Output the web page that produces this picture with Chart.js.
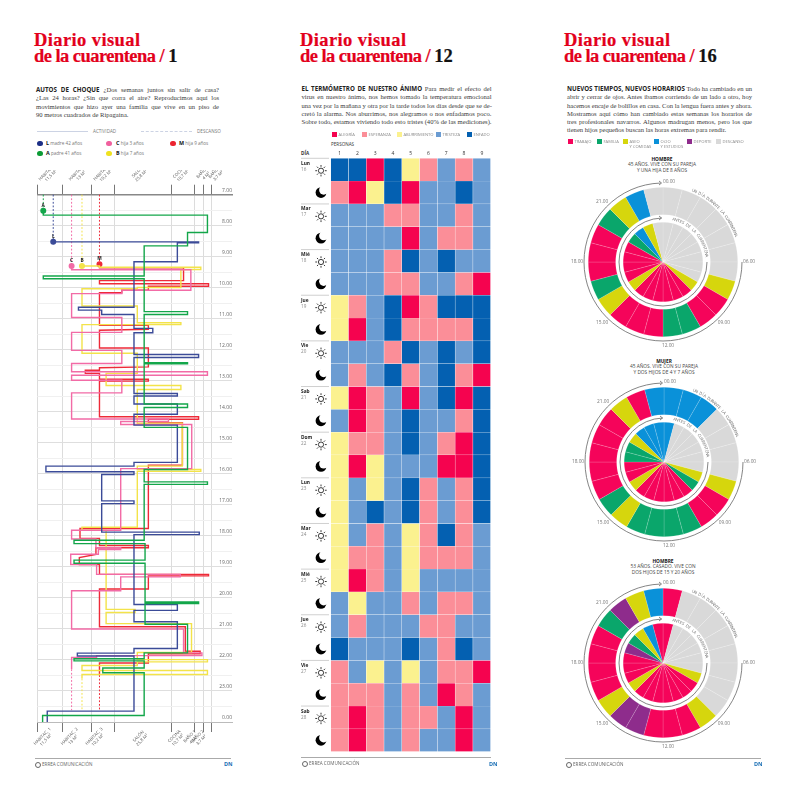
<!DOCTYPE html>
<html>
<head>
<meta charset="utf-8">
<script src="https://cdn.jsdelivr.net/npm/chart.js@4"></script>
<style>
  html, body { margin: 0; background: #fff; }
  #page { position: relative; width: 800px; height: 800px; overflow: hidden; font-family: "Open Sans", sans-serif; }
  #page > * { position: absolute; }
  canvas { display: block; }
  .title { font: bold 18.5px/16px "Liberation Serif", serif; color: #e3001b; -webkit-text-stroke: 0.2px #e3001b; white-space: nowrap; }
  .title .one { letter-spacing: 0.4px; }
  .title .two { letter-spacing: -0.55px; }
  .title b { color: #111; -webkit-text-stroke: 0.2px #111; }
  .body { font: 6.6px/8.3px "Liberation Serif", serif; color: #3a3a3a; }
  .body div { text-align: justify; text-align-last: justify; white-space: nowrap; }
  .body div.end { text-align-last: left; }
  .body b { font: bold 6.2px "Open Sans", sans-serif; color: #222; }
  .tag { font-size: 4.6px; line-height: 5px; color: #777; white-space: nowrap; }
  .tag b { color: #111; font-size: 5.4px; }
  .dot { width: 5.5px; height: 5.5px; border-radius: 50%; }
  .sw { width: 5px; height: 5px; }
  .head { font-size: 4.8px; line-height: 5.7px; color: #444; text-align: center; white-space: nowrap; }
  .head b { color: #111; }
  .rule { height: 1px; background: #aaa; }
  .foot { font-size: 4.6px; color: #666; white-space: nowrap; }
  .ring { width: 4px; height: 4px; border: 0.7px solid #666; border-radius: 50%; }
  .dn { font-size: 5.5px; font-weight: bold; color: #1a6fb5; }
</style>
</head>
<body>
<div id="page">
  <!-- panel 1 -->
  <div class="title" style="left:34px;top:32px"><span class="one">Diario visual</span><br><span class="two">de la cuarentena / </span><b>1</b></div>
  <div class="body" style="left:36px;top:85px;width:183px">
    <div><b>AUTOS DE CHOQUE</b> ¿Dos semanas juntos sin salir de casa?</div>
    <div>¿Las 24 horas? ¿Sin que corra el aire? Reproducimos aquí los</div>
    <div>movimientos que hizo ayer una familia que vive en un piso de</div>
    <div class="end">90 metros cuadrados de Ripagaina.</div>
  </div>
  <div style="left:37px;top:131px;width:51px;border-top:1px solid #ccd3e4"></div>
  <div class="tag" style="left:93px;top:129px">ACTIVIDAD</div>
  <div style="left:141px;top:131px;width:51px;border-top:1px dashed #ccd3e4"></div>
  <div class="tag" style="left:197px;top:129px">DESCANSO</div>
  <div class="dot" style="left:37px;top:140.5px;background:#1c2f86"></div>
  <div class="tag" style="left:46px;top:140.5px"><b>L</b> madre 42 años</div>
  <div class="dot" style="left:37px;top:150.5px;background:#0c9b35"></div>
  <div class="tag" style="left:46px;top:150.5px"><b>A</b> padre 41 años</div>
  <div class="dot" style="left:106px;top:140.5px;background:#f0609e"></div>
  <div class="tag" style="left:116px;top:140.5px"><b>C</b> hija 3 años</div>
  <div class="dot" style="left:106px;top:150.5px;background:#efe21f"></div>
  <div class="tag" style="left:116px;top:150.5px"><b>B</b> hija 7 años</div>
  <div class="dot" style="left:170px;top:140.5px;background:#ec2330"></div>
  <div class="tag" style="left:179px;top:140.5px"><b>M</b> hija 9 años</div>
  <canvas id="moves" width="210" height="580" style="left:30px;top:170px"></canvas>
  <div class="rule" style="left:35px;top:758px;width:196px"></div>
  <div class="ring" style="left:35px;top:762px"></div>
  <div class="foot" style="left:42px;top:761px">ERREA COMUNICACIÓN</div>
  <div class="dn" style="left:224px;top:760px">DN</div>

  <!-- panel 2 -->
  <div class="title" style="left:300px;top:32px"><span class="one">Diario visual</span><br><span class="two">de la cuarentena / </span><b>12</b></div>
  <div class="body" style="left:301.5px;top:84px;width:190px">
    <div><b>EL TERMÓMETRO DE NUESTRO ÁNIMO</b> Para medir el efecto del</div>
    <div>virus en nuestro ánimo, nos hemos tomado la temperatura emocional</div>
    <div>una vez por la mañana y otra por la tarde todos los días desde que se de-</div>
    <div>cretó la alarma. Nos aburrimos, nos alegramos o nos enfadamos poco.</div>
    <div>Sobre todo, estamos viviendo todo esto tristes (40% de las mediciones).</div>
  </div>
  <div class="tag" style="left:331px;top:141.5px;color:#333">PERSONAS</div>
  <div class="tag" style="left:301px;top:150.5px;color:#333"><span style="font-weight:bold">DÍA</span></div>
  <canvas id="mood" width="200" height="630" style="left:296px;top:130px"></canvas>
  <div class="rule" style="left:301px;top:757px;width:190px"></div>
  <div class="ring" style="left:302px;top:761px"></div>
  <div class="foot" style="left:309px;top:760px">ERREA COMUNICACIÓN</div>
  <div class="dn" style="left:489px;top:760px">DN</div>

  <!-- panel 3 -->
  <div class="title" style="left:564px;top:32px"><span class="one">Diario visual</span><br><span class="two">de la cuarentena / </span><b>16</b></div>
  <div class="body" style="left:567px;top:84px;width:185px">
    <div><b>NUEVOS TIEMPOS, NUEVOS HORARIOS</b> Todo ha cambiado en un</div>
    <div>abrir y cerrar de ojos. Antes íbamos corriendo de un lado a otro, hoy</div>
    <div>hacemos encaje de bolillos en casa. Con la lengua fuera antes y ahora.</div>
    <div>Mostramos aquí cómo han cambiado estas semanas los horarios de</div>
    <div>tres profesionales navarros. Algunos madrugan menos, pero los que</div>
    <div class="end">tienen hijos pequeños buscan las horas extremas para rendir.</div>
  </div>
  <div class="head" style="left:612px;width:100px;top:156.5px"><b>HOMBRE</b><br>45 AÑOS. VIVE CON SU PAREJA<br>Y UNA HIJA DE 8 AÑOS</div>
  <canvas id="clock1" width="190" height="190" style="left:568px;top:167px"></canvas>
  <div class="head" style="left:614px;width:100px;top:358.5px"><b>MUJER</b><br>45 AÑOS. VIVE CON SU PAREJA<br>Y DOS HIJOS DE 4 Y 7 AÑOS</div>
  <canvas id="clock2" width="190" height="190" style="left:569px;top:367px"></canvas>
  <div class="head" style="left:613px;width:100px;top:558.5px"><b>HOMBRE</b><br>53 AÑOS. CASADO. VIVE CON<br>DOS HIJOS DE 15 Y 20 AÑOS</div>
  <canvas id="clock3" width="190" height="190" style="left:568px;top:568px"></canvas>
  <div class="rule" style="left:565px;top:758px;width:196px"></div>
  <div class="ring" style="left:566px;top:762px"></div>
  <div class="foot" style="left:573px;top:761px">ERREA COMUNICACIÓN</div>
  <div class="dn" style="left:754px;top:760px">DN</div>
</div>

<script>
// panel 1: rooms in m2, paths are [m2 along the flat, hour of the day]
const roomNames = ["HABITAC. 1", "HABITAC. 2", "HABITAC. 3", "SALÓN", "COCINA", "BAÑO 1", "BAÑO 2"];
const roomAreas = ["11,5 M²", "13 M²", "10,2 M²", "25,8 M²", "10,7 M²", "4 M²", "3,7 M²"];
const roomEdges = [0, 11.5, 24.5, 34.7, 60.5, 71.2, 75.2, 78.9];

const pathA = [[2.7,7.52],[2.7,7.66],[76.9,7.66],[76.9,8.22],[67.9,8.22],[67.9,8.65],[48.3,8.65],[48.3,9.62],[2.7,9.62],[2.7,9.71],[48.3,9.71],[48.3,10.77],[67.9,10.77],[67.9,10.86],[48.3,10.86],[48.3,12.42],[67.9,12.42],[67.9,12.45],[48.3,12.45],[48.3,13.75],[67.9,13.75],[67.9,13.86],[48.3,13.86],[48.3,14.5],[67.9,14.5],[67.9,15.86],[48.3,15.86],[48.3,16.26],[76.9,16.26],[76.9,16.34],[48.3,16.34],[48.3,18.14],[16.6,18.14],[16.6,18.25],[48.7,18.25],[48.7,18.78],[16.6,18.78],[16.6,18.88],[48.7,18.88],[48.7,20.13],[72.9,20.13],[72.9,20.18],[48.7,20.18],[48.7,20.85],[67.9,20.85],[67.9,21.77],[48.3,21.77],[48.3,21.96],[16.6,21.96],[16.6,22.03],[48.3,22.03],[48.3,22.26],[29.6,22.26],[29.6,22.41],[48.3,22.41],[48.3,23.79],[2.4,23.79],[2.4,24]];
const pathL = [[7.2,8.52],[72.9,8.52],[72.9,8.55],[63.3,8.55],[63.3,9.16],[43.7,9.16],[43.7,10.63],[18.6,10.63],[18.6,10.72],[29.1,10.72],[29.1,10.86],[43.7,10.86],[43.7,11.31],[52.2,11.31],[52.2,11.45],[43.7,11.45],[43.7,12.15],[72.9,12.15],[72.9,12.25],[43.7,12.25],[43.7,13.41],[63.3,13.41],[63.3,13.49],[43.7,13.49],[43.7,13.75],[63.3,13.75],[63.3,14.08],[43.7,14.08],[43.7,14.43],[63.3,14.43],[63.3,15.63],[43.7,15.63],[43.7,15.75],[3.9,15.75],[3.9,15.93],[43.7,15.93],[43.7,16.02],[29.1,16.02],[29.1,16.87],[43.7,16.87],[43.7,16.96],[29.1,16.96],[29.1,17.88],[73.2,17.88],[73.2,17.96],[43.7,17.96],[43.7,20.21],[63.3,20.21],[63.3,20.4],[43.7,20.4],[43.7,20.77],[63.3,20.77],[63.3,21.63],[43.7,21.63],[43.7,21.78],[18.1,21.78],[18.1,21.87],[43.7,21.87],[43.7,23.65],[4.5,23.65],[4.5,24]];
const pathC = [[15.5,9.3],[15.5,9.42],[69.4,9.42],[69.4,10.08],[38.2,10.08],[38.2,10.19],[15.5,10.19],[15.5,10.96],[38.2,10.96],[38.2,11.44],[15.5,11.44],[15.5,12.02],[38.2,12.02],[38.2,12.44],[15.5,12.44],[15.5,12.71],[76.9,12.71],[76.9,12.82],[15.5,12.82],[15.5,12.98],[38.2,12.98],[38.2,13.39],[15.5,13.39],[15.5,14.23],[59.3,14.23],[59.3,14.31],[37.7,14.31],[37.7,14.41],[69.8,14.41],[69.8,15.83],[37.7,15.83],[37.7,17.82],[15.5,17.82],[15.5,18.1],[26.5,18.1],[26.5,18.38],[37.7,18.38],[37.7,18.44],[27.6,18.44],[27.6,18.59],[15.1,18.59],[15.1,18.92],[26.8,18.92],[26.8,19.24],[64.6,19.24],[64.6,19.32],[37.7,19.32],[37.7,19.77],[15.5,19.77],[15.5,21],[66.1,21],[66.1,21.77],[74.4,21.77],[74.4,21.86],[26.8,21.86],[26.8,21.92],[15.5,21.92],[15.5,22.3]];
const pathB = [[20.2,9.3],[28.1,9.3],[28.1,9.34],[73.9,9.34],[73.9,9.41],[64.9,9.41],[64.9,9.99],[45.2,9.99],[45.2,10.03],[20.2,10.03],[20.2,10.59],[45.2,10.59],[45.2,11.13],[64.9,11.13],[64.9,11.19],[20.2,11.19],[20.2,12.11],[45.2,12.11],[45.2,12.76],[31.1,12.76],[31.1,13.15],[64.9,13.15],[64.9,13.28],[45.2,13.28],[45.2,14.37],[65.5,14.37],[65.5,15.75],[45.2,15.75],[45.2,15.86],[73.9,15.86],[73.9,15.92],[45.2,15.92],[45.2,17.72],[20.2,17.72],[20.2,17.82],[31.1,17.82],[31.1,20.37],[44.2,20.37],[44.2,20.47],[31.1,20.47],[31.1,20.83],[69.7,20.83],[69.7,21.76],[45.2,21.76],[45.2,21.99],[76.9,21.99],[76.9,22.06],[45.2,22.06],[45.2,22.18],[20.2,22.18],[20.2,22.34],[76.9,22.34],[76.9,22.47],[20.2,22.47],[20.2,22.6]];
const pathM = [[28.1,9.24],[28.1,9.36],[66.1,9.36],[66.1,9.77],[28.1,9.77],[28.1,9.87],[77.4,9.87],[77.4,9.95],[50.2,9.95],[50.2,10.08],[38.2,10.08],[38.2,10.16],[28.1,10.16],[28.1,11.21],[50.2,11.21],[50.2,11.34],[28.1,11.37],[28.1,11.94],[50.2,11.94],[50.2,12.55],[28.1,12.58],[28.1,12.66],[21.7,12.66],[21.7,12.76],[28.1,12.76],[28.1,12.95],[50.2,12.95],[50.2,13.01],[28.1,13.01],[28.1,14.16],[72.9,14.16],[72.9,14.24],[50.2,14.24],[50.2,14.35],[65.6,14.35],[65.6,15.72],[50.2,15.72],[50.2,17.76],[19.3,17.76],[19.3,18.08],[28.1,18.08],[28.1,18.31],[50.2,18.31],[50.2,18.38],[26.5,18.38],[26.5,18.6],[19,18.7],[19,18.92],[28.1,18.92],[28.1,19.24],[77.4,19.24],[77.4,19.29],[50.2,19.29],[50.2,19.71],[28.1,19.71],[28.1,20.93],[66.9,20.93],[66.9,21.72],[73.6,21.72],[73.6,21.8],[50.2,21.8],[50.2,22.1],[28.1,22.1],[28.1,22.49]];

const restA = [[2.7,7],[2.7,7.52]];
const restL = [[7.2,7],[7.2,8.52]];
const restC = [[15.5,7],[15.5,9.3]];
const restB = [[20.2,7],[20.2,9.3]];
const restM = [[28.1,7],[28.1,9.24]];
const nightC = [[15.5,22.3],[15.5,23.62]];
const nightB = [[20.2,22.6],[20.2,23.62]];
const nightM = [[28.1,22.49],[28.1,23.62]];

const people = ["A", "L", "C", "B", "M"];
const peopleColors = ["#13a64a", "#3b4b98", "#f26ba6", "#f3e34a", "#ee2a38"];
const peoplePaths = [pathA, pathL, pathC, pathB, pathM];
const peopleRest = [restA, restL, restC, restB, restM];
const peopleNight = [[], [], nightC, nightB, nightM];

const toPoints = list => list.map(p => ({ x: p[0], y: p[1] }));

const moveSets = [];
people.forEach((name, i) => {
  moveSets.push({ label: name + " descanso", data: toPoints(peopleRest[i]), borderColor: peopleColors[i], borderWidth: 1, borderDash: [1.8, 1.8], pointRadius: 0, order: 9 });
  moveSets.push({ label: name + " noche", data: toPoints(peopleNight[i]), borderColor: peopleColors[i], borderWidth: 1, borderDash: [1.8, 1.8], pointRadius: 0, order: 9 });
  moveSets.push({
    label: name,
    data: toPoints(peoplePaths[i]),
    borderColor: peopleColors[i],
    backgroundColor: peopleColors[i],
    borderWidth: 1.4,
    pointRadius: ctx => ctx.dataIndex === 0 ? 2.3 : 0,
    order: i
  });
});

// room names sit rotated near the middle of each room, nudged so the baths do not collide
const roomTopNudge = [0, 3, 2, -2.5, -1, 6, 9.5];
const roomBottomNudge = [-5, -5, -6, -1.5, -6, -7, -7.5];
const roomLabels = {
  id: "roomLabels",
  afterDraw(chart) {
    const { ctx, scales: { x }, chartArea } = chart;
    const drawAt = (cx, cy, i) => {
      ctx.save();
      ctx.translate(cx, cy);
      ctx.rotate(-Math.PI / 4);
      ctx.textAlign = "center";
      ctx.fillStyle = "#555";
      ctx.font = "4.3px 'Open Sans'";
      ctx.fillText(roomNames[i], 0, -2.5);
      ctx.fillText(roomAreas[i], 0, 2.6);
      ctx.restore();
    };
    roomNames.forEach((_, i) => {
      const mid = x.getPixelForValue((roomEdges[i] + roomEdges[i + 1]) / 2);
      drawAt(mid + roomTopNudge[i], chartArea.top - 20, i);
      drawAt(mid + roomBottomNudge[i], chartArea.bottom + 17, i);
    });
    ctx.save();
    ctx.textAlign = "center";
    ctx.fillStyle = "#222";
    ctx.font = "bold 4.8px 'Open Sans'";
    chart.data.datasets.forEach((set, i) => {
      if (!people.includes(set.label)) return;
      const pt = chart.getDatasetMeta(i).data[0];
      ctx.fillText(set.label, pt.x, pt.y - 4);
    });
    ctx.restore();
  }
};

new Chart(document.getElementById("moves"), {
  type: "scatter",
  data: { datasets: moveSets.map(s => ({ ...s, showLine: true, fill: false, tension: 0, clip: false })) },
  options: {
    responsive: false,
    animation: false,
    layout: { padding: { left: 7.3, right: 8, top: 14.7, bottom: 18 } },
    plugins: { legend: { display: false }, tooltip: { enabled: false } },
    scales: {
      x: {
        type: "linear", position: "top", min: 0, max: 88,
        afterBuildTicks: axis => { axis.ticks = roomEdges.map(v => ({ value: v })); },
        ticks: { display: false },
        grid: { color: "#dcdcdc", tickColor: "#777", tickLength: 10 },
        border: { color: "#888", width: 1.4 }
      },
      x2: {
        type: "linear", axis: "x", position: "bottom", min: 0, max: 88,
        afterBuildTicks: axis => { axis.ticks = roomEdges.map(v => ({ value: v })); },
        ticks: { display: false },
        grid: { drawOnChartArea: false, tickColor: "#777", tickLength: 10 },
        border: { color: "#bbb", width: 1 }
      },
      y: {
        type: "linear", position: "right", reverse: true, min: 7, max: 24,
        ticks: {
          stepSize: 0.5, mirror: true, padding: 0, labelOffset: -4, autoSkip: false,
          color: "#666", font: { size: 5, family: "Open Sans" },
          callback: v => Number.isInteger(v) ? (v === 24 ? "0.00" : v + ".00") : ""
        },
        grid: { drawTicks: false, color: ctx => Number.isInteger(ctx.tick.value) ? "#dedede" : "#f0f0f0" },
        border: { display: false }
      }
    }
  },
  plugins: [roomLabels]
});

// panel 2: one letter per person, a row per morning / afternoon
const persons = ["1", "2", "3", "4", "5", "6", "7", "8", "9"];
const dayNames = ["Lun", "Mar", "Mié", "Jue", "Vie", "Sab", "Dom", "Lun", "Mar", "Mié", "Jue", "Vie", "Sab"];
const dayNumbers = ["16", "17", "18", "19", "20", "21", "22", "23", "24", "25", "26", "27", "28"];
const moodNames = ["ALEGRÍA", "ESPERANZA", "ABURRIMIENTO", "TRISTEZA", "ENFADO"];
const moodKeys = ["A", "E", "B", "T", "N"];
const moodColors = ["#f5034f", "#fb8e98", "#fbf18f", "#6b9cd2", "#0460b1"];
const moodRows = [
  "NNANBETET", "EABNATTNT",
  "TTTEETTET", "TTTTATEET",
  "TTTENTNTT", "TTTEETTEA",
  "BETNAENNN", "BATNEEEEN",
  "TTTENTNTN", "TETNETNEA",
  "BAETATNAN", "TAETNTTEN",
  "BEETNTEAN", "BABTTTAAN",
  "BTBTNETEN", "BTNTNETEN",
  "BTETBENET", "BEETBEEET",
  "BAETBTTTT", "TBTTETEET",
  "TETTTEETT", "NTTTNTENT",
  "ETBTBTEEA", "EEETETAET",
  "EAETEETAT", "EAETETTAT"
];

const moodColor = key => moodColors[moodKeys.indexOf(key)];

const dayColumn = {
  id: "dayColumn",
  afterDraw(chart) {
    const { ctx, scales: { y } } = chart;
    const left = 5, iconX = 25;
    moodRows.forEach((_, row) => {
      const top = y.getPixelForValue(row);
      const mid = y.getPixelForValue(row + 0.5);
      ctx.save();
      if (row % 2 === 0) {
        const d = row / 2;
        ctx.strokeStyle = "#bbb";
        ctx.lineWidth = 0.7;
        ctx.beginPath();
        ctx.moveTo(left, top);
        ctx.lineTo(33, top);
        ctx.stroke();
        ctx.fillStyle = "#222";
        ctx.font = "bold 4.8px 'Open Sans'";
        ctx.fillText(dayNames[d], left, top + 6.5);
        ctx.fillStyle = "#888";
        ctx.font = "4.6px 'Open Sans'";
        ctx.fillText(dayNumbers[d], left, top + 12.5);
        // sun
        ctx.strokeStyle = "#222";
        ctx.lineWidth = 0.9;
        ctx.beginPath();
        ctx.arc(iconX, mid + 1, 2.6, 0, Math.PI * 2);
        ctx.stroke();
        for (let k = 0; k < 8; k++) {
          const a = k * Math.PI / 4;
          ctx.beginPath();
          ctx.moveTo(iconX + Math.cos(a) * 3.9, mid + 1 + Math.sin(a) * 3.9);
          ctx.lineTo(iconX + Math.cos(a) * 5.7, mid + 1 + Math.sin(a) * 5.7);
          ctx.stroke();
        }
      } else {
        // moon
        ctx.fillStyle = "#000";
        ctx.beginPath();
        ctx.arc(iconX, mid, 5.4, 0, Math.PI * 2);
        ctx.fill();
        ctx.fillStyle = "#fff";
        ctx.beginPath();
        ctx.arc(iconX + 2.7, mid - 2.5, 4.6, 0, Math.PI * 2);
        ctx.fill();
      }
      ctx.restore();
    });
  }
};

new Chart(document.getElementById("mood"), {
  type: "bar",
  data: {
    labels: persons,
    datasets: moodRows.map((row, r) => ({
      label: "fila " + r,
      data: persons.map(() => 1),
      backgroundColor: persons.map((_, p) => moodColor(row[p])),
      borderColor: "rgba(255,255,255,0.45)",
      borderWidth: 0.5,
      barPercentage: 1,
      categoryPercentage: 1
    }))
  },
  options: {
    responsive: false,
    animation: false,
    layout: { padding: { left: 34.7, right: 5.3, top: 18.3, bottom: 8.3 } },
    plugins: { legend: { display: false }, tooltip: { enabled: false } },
    scales: {
      x: {
        position: "top", stacked: true,
        afterFit: axis => { axis.height = 10; },
        ticks: { color: "#333", padding: 2, maxRotation: 0, font: { size: 5, family: "Open Sans" } },
        grid: { display: false, drawTicks: false },
        border: { display: false }
      },
      y: { type: "linear", display: false, stacked: true, reverse: true, min: 0, max: 26 }
    }
  },
  plugins: [dayColumn]
});

// panel 3: what each of the 24 hours went to, from 00.00 clockwise
const taskNames = ["TRABAJO", "FAMILIA", "ASEO|Y COMIDAS", "OCIO|Y ESTUDIOS", "DEPORTE", "DESCANSO"];
const taskKeys = ["T", "F", "C", "O", "D", "R"];
const taskColors = ["#f5045a", "#0aa66b", "#d6d60d", "#0a91d9", "#8e2c8c", "#d9d9d9"];
const hourLabels = [0, 6, 9, 12, 15, 18, 21];

const clock1Now = "RRRRRRRCTTFFTTTCFTTTFCOR";
const clock1Before = "RRRRRRRRCTTTTTTCTTTTFOCR";
const clock2Now = "OOORRRRCTTFFFFCFTTTTTCTO";
const clock2Before = "ORRRRRRCFTTTTTTCTTFFCOOO";
const clock3Now = "TRRRRRRRRCTTTDDCTTTTFDCO";
const clock3Before = "TRRRRRRCTTTTTTTCTTTDFCOT";

const taskColor = key => taskColors[taskKeys.indexOf(key)];

function clockOverlay(nowText, beforeText) {
  return {
    id: "clockOverlay",
    afterDraw(chart) {
      const { ctx, chartArea } = chart;
      const cx = (chartArea.left + chartArea.right) / 2;
      const cy = (chartArea.top + chartArea.bottom) / 2;
      const ring = (r) => {
        ctx.beginPath();
        ctx.arc(cx, cy, r, 0, Math.PI * 1.49);
        ctx.stroke();
        ctx.beginPath();
        ctx.moveTo(cx - 4, cy - r - 2);
        ctx.lineTo(cx - 1.5, cy - r);
        ctx.lineTo(cx - 4, cy - r + 2);
        ctx.stroke();
      };
      const curved = (text, r, from, to) => {
        const step = (to - from) / (text.length - 1);
        [...text].forEach((c, i) => {
          const a = (from + step * i) * Math.PI / 180;
          ctx.save();
          ctx.translate(cx + Math.sin(a) * r, cy - Math.cos(a) * r);
          ctx.rotate(a);
          ctx.fillText(c, 0, 0);
          ctx.restore();
        });
      };
      ctx.save();
      ctx.strokeStyle = "#777";
      ctx.lineWidth = 0.9;
      ring(79);
      ring(44);
      ctx.fillStyle = "#666";
      ctx.font = "4.1px 'Open Sans'";
      ctx.textAlign = "center";
      ctx.textBaseline = "middle";
      curved(nowText, 77.5, 23, 70);
      curved(beforeText, 44, 14, 82);
      ctx.font = "4.8px 'Open Sans'";
      ctx.fillStyle = "#777";
      hourLabels.forEach(h => {
        const a = h * 15 * Math.PI / 180;
        const text = String(h).padStart(2, "0") + ".00";
        let x = cx + Math.sin(a) * 86, y = cy - Math.cos(a) * 86;
        if (h === 0) { x = cx + 6; y = cy - 80; }
        if (h === 12) { x = cx + 5; y = cy + 84; }
        ctx.fillText(text, x, y);
      });
      ctx.restore();
    }
  };
}

function drawClock(id, now, before) {
  const hours = [...now].map(() => 1);
  const sliceStyle = { borderColor: "rgba(255,255,255,0.3)", borderWidth: 0.5 };
  new Chart(document.getElementById(id), {
    type: "doughnut",
    data: {
      labels: [...now].map((_, h) => h + ".00"),
      datasets: [
        { data: hours, weight: 27.5, backgroundColor: [...now].map(taskColor), ...sliceStyle },
        { data: hours, weight: 7.5, backgroundColor: "rgba(0,0,0,0)", borderWidth: 0 },
        { data: hours, weight: 40, backgroundColor: [...before].map(taskColor), ...sliceStyle }
      ]
    },
    options: {
      responsive: false,
      animation: false,
      cutout: 0,
      layout: { padding: 20 },
      plugins: { legend: { display: false }, tooltip: { enabled: false } }
    },
    plugins: [clockOverlay("UN DÍA DURANTE LA CUARENTENA", "ANTES DE LA CUARENTENA")]
  });
}

drawClock("clock1", clock1Now, clock1Before);
drawClock("clock2", clock2Now, clock2Before);
drawClock("clock3", clock3Now, clock3Before);

// small html legends for panels 2 and 3
const page = document.getElementById("page");
function legendItem(color, name, left, top, gap) {
  const sw = document.createElement("div");
  sw.className = "sw";
  sw.style.cssText = "left:" + left + "px;top:" + top + "px;background:" + color;
  const tag = document.createElement("div");
  tag.className = "tag";
  tag.style.cssText = "left:" + (left + gap) + "px;top:" + (top - 0.2) + "px;color:#888;font-size:4.1px";
  tag.innerHTML = name.replace("|", "<br>");
  page.append(sw, tag);
}
const moodLefts = [332, 362, 397, 436, 467];
moodNames.forEach((name, i) => legendItem(moodColors[i], name, moodLefts[i], 132, 6.5));
const taskLefts = [568, 597, 623, 654, 687, 716];
taskNames.forEach((name, i) => legendItem(taskColors[i], name, taskLefts[i], 139, 6.5));
</script>
</body>
</html>
